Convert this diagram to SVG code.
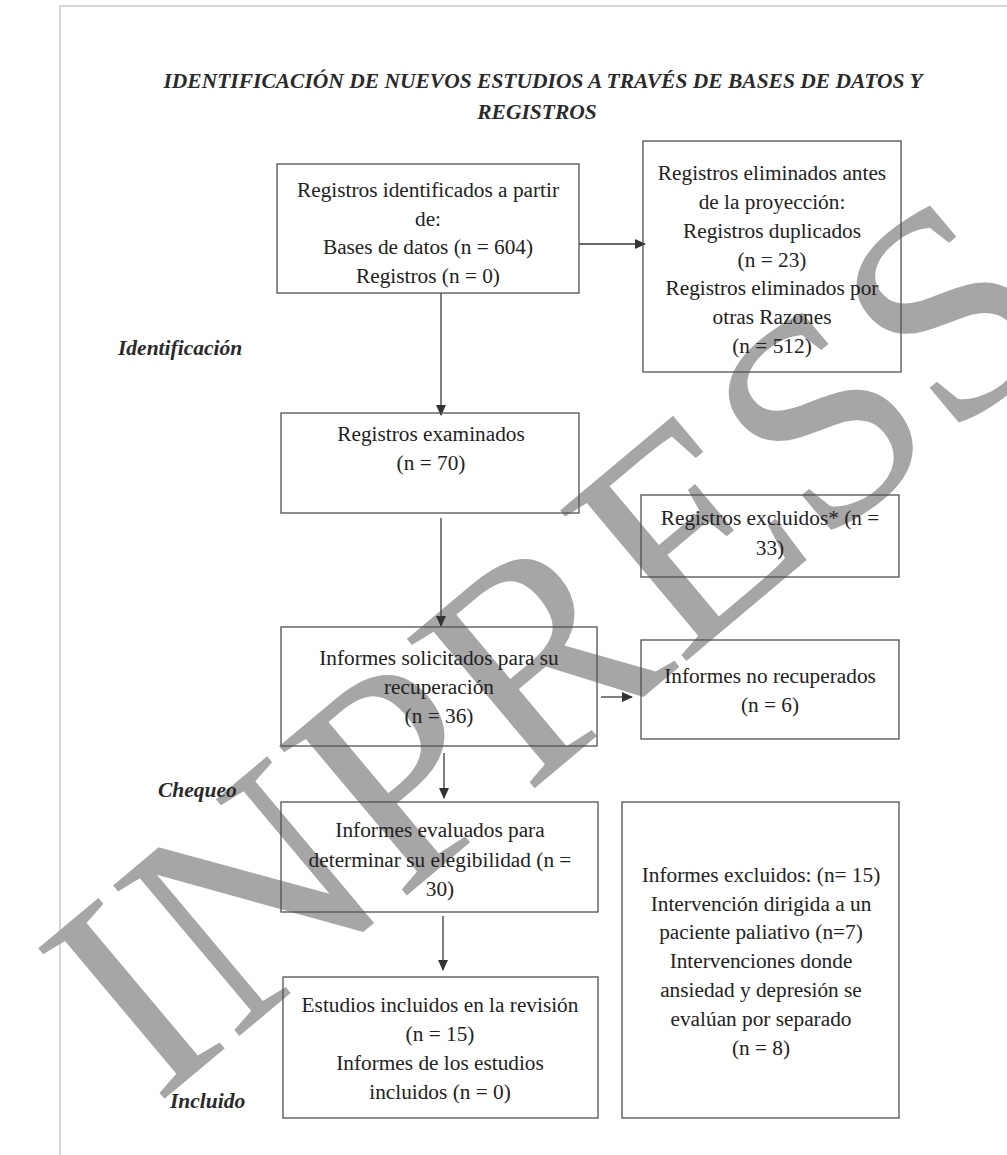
<svg xmlns="http://www.w3.org/2000/svg" width="1007" height="1155" viewBox="0 0 1007 1155">
<defs>
<style>
.bx{fill:none;stroke:#505050;stroke-width:1.3}
.t{font-family:"Liberation Serif","Times New Roman",serif;font-size:21.3px;fill:#222;text-anchor:middle}
.h{font-family:"Liberation Serif","Times New Roman",serif;font-size:21.5px;font-weight:bold;font-style:italic;fill:#2a2a2a}
.cn{stroke:#3a3a3a;stroke-width:1.3;fill:none;marker-end:url(#ah)}
.wm{font-family:"Liberation Serif","Times New Roman",serif;font-size:300px;fill:#a6a6a6;text-anchor:middle}
</style>
<marker id="ah" markerUnits="userSpaceOnUse" markerWidth="11" markerHeight="10" refX="10" refY="5" orient="auto">
<path d="M0,0 L11,5 L0,10 z" fill="#333"/>
</marker>
</defs>
<rect width="1007" height="1155" fill="#fff"/>
<path d="M60,1155 V6 H1007" fill="none" stroke="#d6d6d6" stroke-width="2"/>
<g id="watermark">
<text class="wm" x="0" y="0" transform="translate(616,720) rotate(-40)">INPRESS</text>
</g>
<g id="title">
<text class="h" x="543" y="88" text-anchor="middle">IDENTIFICACIÓN DE NUEVOS ESTUDIOS A TRAVÉS DE BASES DE DATOS Y</text>
<text class="h" x="537" y="119" text-anchor="middle">REGISTROS</text>
</g>
<g id="phases">
<text class="h" x="118" y="355">Identificación</text>
<text class="h" x="158" y="797">Chequeo</text>
<text class="h" x="170" y="1108">Incluido</text>
</g>
<g id="connectors">
<line class="cn" x1="441" y1="293" x2="441" y2="415"/>
<line class="cn" x1="579" y1="244" x2="645" y2="244"/>
<line class="cn" x1="441" y1="518" x2="441" y2="626"/>
<line class="cn" x1="601" y1="697" x2="632" y2="697"/>
<line class="cn" x1="444" y1="753" x2="444" y2="798"/>
<line class="cn" x1="443" y1="916" x2="443" y2="970"/>
</g>
<g id="n1">
<rect class="bx" x="277" y="164" width="302" height="129"/>
<text class="t" x="428" y="197">Registros identificados a partir</text>
<text class="t" x="428" y="225.5">de:</text>
<text class="t" x="428" y="254">Bases de datos (n = 604)</text>
<text class="t" x="428" y="283">Registros (n = 0)</text>
</g>
<g id="n2">
<rect class="bx" x="643" y="141" width="258" height="231"/>
<text class="t" x="772" y="180">Registros eliminados antes</text>
<text class="t" x="772" y="209">de la proyección:</text>
<text class="t" x="772" y="237.5">Registros duplicados</text>
<text class="t" x="772" y="266.5">(n = 23)</text>
<text class="t" x="772" y="295">Registros eliminados por</text>
<text class="t" x="772" y="324">otras Razones</text>
<text class="t" x="772" y="353">(n = 512)</text>
</g>
<g id="n3">
<rect class="bx" x="281" y="413" width="298" height="100"/>
<text class="t" x="431" y="441">Registros examinados</text>
<text class="t" x="431" y="470">(n = 70)</text>
</g>
<g id="n4">
<rect class="bx" x="641" y="495" width="258" height="82"/>
<text class="t" x="770" y="525">Registros excluidos* (n =</text>
<text class="t" x="770" y="555">33)</text>
</g>
<g id="n5">
<rect class="bx" x="281" y="627" width="316" height="119"/>
<text class="t" x="439" y="665">Informes solicitados para su</text>
<text class="t" x="439" y="694">recuperación</text>
<text class="t" x="439" y="723">(n = 36)</text>
</g>
<g id="n6">
<rect class="bx" x="641" y="640" width="258" height="99"/>
<text class="t" x="770" y="683">Informes no recuperados</text>
<text class="t" x="770" y="712">(n = 6)</text>
</g>
<g id="n7">
<rect class="bx" x="281" y="802" width="317" height="110"/>
<text class="t" x="440" y="837">Informes evaluados para</text>
<text class="t" x="440" y="866.5">determinar su elegibilidad (n =</text>
<text class="t" x="440" y="896">30)</text>
</g>
<g id="n8">
<rect class="bx" x="622" y="802" width="277" height="316"/>
<text class="t" x="761" y="882">Informes excluidos: (n= 15)</text>
<text class="t" x="761" y="910.5">Intervención dirigida a un</text>
<text class="t" x="761" y="939">paciente paliativo (n=7)</text>
<text class="t" x="761" y="968">Intervenciones donde</text>
<text class="t" x="761" y="997">ansiedad y depresión se</text>
<text class="t" x="761" y="1026">evalúan por separado</text>
<text class="t" x="761" y="1055">(n = 8)</text>
</g>
<g id="n9">
<rect class="bx" x="283" y="977" width="315" height="141"/>
<text class="t" x="440" y="1012">Estudios incluidos en la revisión</text>
<text class="t" x="440" y="1041">(n = 15)</text>
<text class="t" x="440" y="1070">Informes de los estudios</text>
<text class="t" x="440" y="1099">incluidos (n = 0)</text>
</g>
</svg>
